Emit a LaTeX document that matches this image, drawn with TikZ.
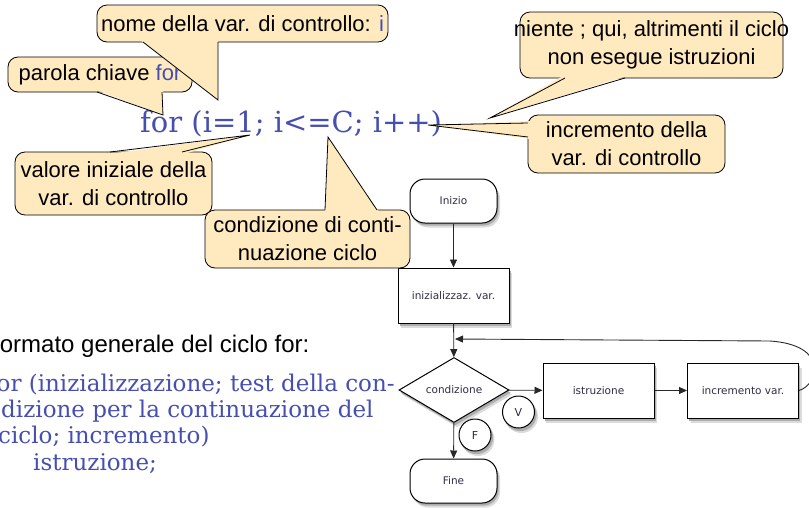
\documentclass[tikz,border=0pt]{standalone}
\usepackage{fontspec}
\setmainfont{Liberation Sans}
\newfontfamily\slabfont{DejaVu Serif}
\newfontfamily\flowfont{DejaVu Sans}
\usetikzlibrary{arrows.meta,shapes.geometric}
\definecolor{cfill}{RGB}{255,234,192}
\definecolor{codeblue}{RGB}{70,78,176}
\definecolor{flowtext}{RGB}{45,45,70}
\definecolor{flowline}{RGB}{40,40,40}
\begin{document}
\begin{tikzpicture}[x=1pt,y=-1pt,
  callbox/.style={draw=black, line width=0.8pt, fill=cfill, rounded corners=10pt, inner sep=0pt},
  calltext/.style={font=\fontsize{22}{28}\selectfont, align=center, inner sep=0pt, text=black},
  ptrline/.style={draw=black, line width=0.8pt},
  procbox/.style={rectangle, draw=black, line width=1pt, fill=white, minimum width=111pt, minimum height=55pt, inner sep=0pt, font=\flowfont\fontsize{10.5}{12}\selectfont, text=flowtext},
  termbox/.style={procbox, rounded corners=15pt, minimum width=87pt, minimum height=44pt},
  decision/.style={diamond, draw=black, line width=1pt, fill=white, minimum width=110pt, minimum height=65pt, aspect=1.69, inner sep=0pt, font=\flowfont\fontsize{10.5}{12}\selectfont, text=flowtext},
  flag/.style={circle, draw=black, line width=1pt, fill=white, minimum size=32pt, inner sep=0pt, font=\flowfont\fontsize{11}{12}\selectfont, text=flowtext},
  flowarrow/.style={draw=flowline, line width=0.9pt, -{Triangle[length=8pt,width=7pt]}},
  codetext/.style={anchor=base west, inner sep=0pt, text=codeblue},
]
\useasboundingbox (0,0) rectangle (809,507);
\clip (0,0) rectangle (809,507);

% main code line
\node[codetext, font=\slabfont\fontsize{29}{34}\selectfont] (forline) at (140,132) {for (i=1; i<=C; i++)};

% callout: parola chiave
\node[callbox, minimum width=184pt, minimum height=35pt] (bparola) at (100,74.5) {};
\node[calltext] (tparola) at (bparola) {parola chiave \textcolor{codeblue}{for}};
\coordinate (tipparola) at (163,115);
\fill[cfill] (96,90) -- (163,90) -- (tipparola) -- cycle;
\draw[ptrline] (97,92) -- (tipparola) -- (162,92);

% callout: nome
\node[callbox, minimum width=291pt, minimum height=37pt] (bnome) at (242.5,23.5) {};
\node[calltext] (tnome) at (bnome) {nome della var. di controllo: \textcolor{codeblue}{i}};
\coordinate (tipnome) at (218,100);
\fill[cfill] (140,40) -- (218,40) -- (tipnome) -- cycle;
\draw[ptrline] (143,42) -- (tipnome) -- (218,42);

% callout: valore iniziale
\node[callbox, minimum width=197pt, minimum height=63pt] (bvalore) at (113.5,183.5) {};
\node[calltext] (tvalore) at (bvalore) {valore iniziale della\\var. di controllo};
\coordinate (tipvalore) at (250,135);
\fill[cfill] (108,154) -- (184,154) -- (tipvalore) -- cycle;
\draw[ptrline] (110,152) -- (tipvalore) -- (182,152);

% callout: condizione
\node[callbox, minimum width=205pt, minimum height=58pt] (bcond) at (307.5,239) {};
\node[calltext] (tcond) at (bcond) {condizione di conti-\\nuazione ciclo};
\coordinate (tipcond) at (328,137);
\fill[cfill] (325,212) -- (379,212) -- (tipcond) -- cycle;
\draw[ptrline] (325,210) -- (tipcond) -- (377,210);

% callout: niente
\node[callbox, minimum width=263pt, minimum height=66pt] (bniente) at (651.5,45) {};
\node[calltext] (tniente) at (bniente) {niente ; qui, altrimenti il ciclo\\non esegue istruzioni};
\coordinate (tipniente) at (490,118);
\fill[cfill] (563,76) -- (627,76) -- (tipniente) -- cycle;
\draw[ptrline] (565,78) -- (tipniente) -- (625,78);

% callout: incremento
\node[callbox, minimum width=197pt, minimum height=58pt] (bincr) at (626.5,144) {};
\node[calltext] (tincr) at (bincr) {incremento della\\var. di controllo};
\coordinate (tipincr) at (428,125);
\fill[cfill] (530,121) -- (530,139) -- (tipincr) -- cycle;
\draw[ptrline] (528,123) -- (tipincr) -- (528,137);

% general format text
\node[anchor=base west, inner sep=0pt, font=\fontsize{24}{28}\selectfont] (fmt) at (-15,352) {Formato generale del ciclo for:};
\node[codetext, font=\slabfont\fontsize{23}{26}\selectfont] (gl1) at (-12,391) {for (inizializzazione; test della con-};
\node[codetext, font=\slabfont\fontsize{23}{26}\selectfont] (gl2) at (1,417) {dizione per la continuazione del};
\node[codetext, font=\slabfont\fontsize{23}{26}\selectfont] (gl3) at (-2,443) {ciclo; incremento)};
\node[codetext, font=\slabfont\fontsize{23}{26}\selectfont] (gl4) at (33,470) {istruzione;};

% flowchart shadows (drawn first, offset down-right)
\foreach \c/\dx/\dy in {black!14/3/4.5, black!32/1.6/2.6}{
  \begin{scope}[shift={(\dx,\dy)}]
    \fill[\c, rounded corners=15pt] (410,179) rectangle (497,223);
    \fill[\c, rounded corners=15pt] (410,459) rectangle (497,503);
    \fill[\c] (398,268) rectangle (509,323);
    \fill[\c] (543,363) rectangle (654,418);
    \fill[\c] (687.5,363) rectangle (798.5,418);
    \fill[\c] (454,357.5) -- (509,390) -- (454,422.5) -- (399,390) -- cycle;
    \fill[\c] (518.5,412) circle[radius=16.5];
    \fill[\c] (475,435) circle[radius=16.5];
  \end{scope}
}

% flowchart
\node[termbox] (inizio) at (453.5,201) {Inizio};
\node[procbox] (init) at (453.5,295.5) {inizializzaz. var.};
\node[decision] (cond) at (454,390) {condizione};
\node[procbox] (istr) at (598.5,390.5) {istruzione};
\node[procbox] (incr) at (743,390.5) {incremento var.};
\node[termbox] (fine) at (453.5,481) {Fine};
\coordinate (loopin) at (455,339);

\draw[flowarrow] (inizio) -- (init);
\draw[flowarrow] (init) -- (cond);
\draw[flowarrow] (cond) -- (istr);
\draw[flowarrow] (istr) -- (incr);
\draw[flowarrow] (cond) -- (fine);
\draw[flowarrow] (incr.east) .. controls (818,385) and (830,345) .. (770,341) -- (loopin);

\node[flag] (fv) at (518.5,412) {V};
\node[flag] (ff) at (475,435) {F};
\end{tikzpicture}
\end{document}
